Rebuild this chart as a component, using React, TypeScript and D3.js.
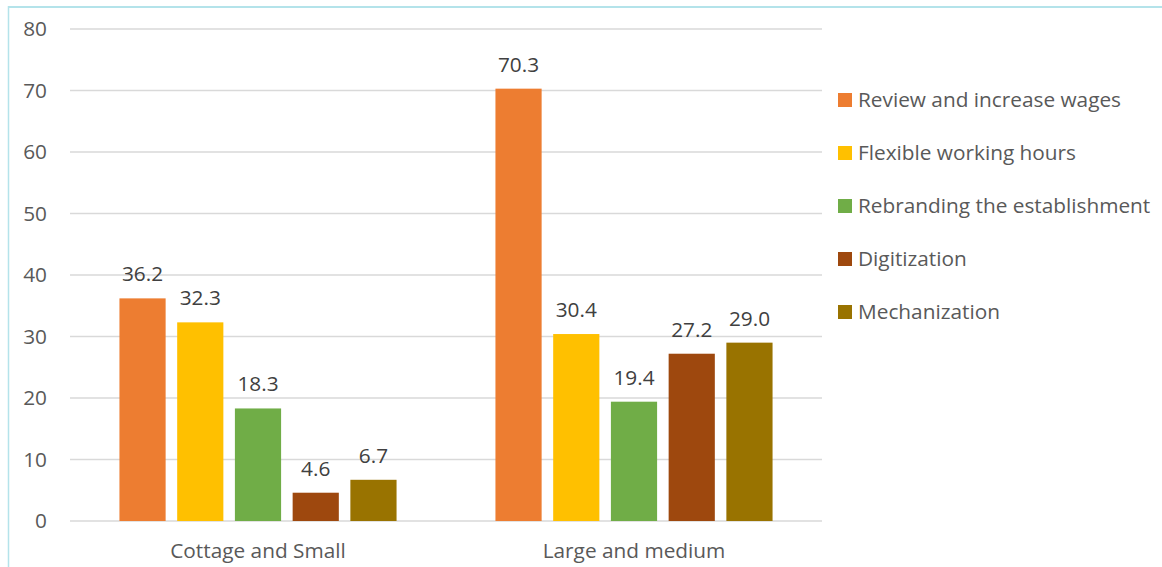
import React from "react";
import * as d3 from "d3";

const categories = ["Cottage and Small", "Large and medium"];
const seriesNames = [
  "Review and increase wages",
  "Flexible working hours",
  "Rebranding the establishment",
  "Digitization",
  "Mechanization",
];
const seriesColors = ["#ED7D31", "#FFC000", "#70AD47", "#9E480E", "#997300"];
const cottageSmall = [36.2, 32.3, 18.3, 4.6, 6.7];
const largeMedium = [70.3, 30.4, 19.4, 27.2, 29.0];
const yTicks = [0, 10, 20, 30, 40, 50, 60, 70, 80];

const W = 1162;
const H = 567;
const FONT = "'Open Sans', sans-serif";
const FS = 20.8;

export default function App() {
  const plot = { left: 70, right: 822, top: 29, bottom: 521 };
  const y = d3.scaleLinear().domain([0, 80]).range([plot.bottom, plot.top]);
  const x0 = d3
    .scaleBand<string>()
    .domain(categories)
    .range([plot.left, plot.right])
    .paddingInner(0.263)
    .paddingOuter(0.1315);
  const x1 = d3
    .scaleBand<string>()
    .domain(seriesNames)
    .range([0, x0.bandwidth()])
    .paddingInner(0.2);
  const valuesByCat = [cottageSmall, largeMedium];

  return (
    <svg
      width={W}
      height={H}
      style={{ position: "absolute", left: 0, top: 0, background: "#fff" }}
    >
      {/* frame */}
      <line x1={8} x2={W} y1={7} y2={7} stroke="#B4E3EA" strokeWidth={2} />
      <line x1={8.5} x2={8.5} y1={6} y2={H} stroke="#B4E3EA" strokeWidth={1.5} />

      {/* gridlines and y labels */}
      {yTicks.map((t) => (
        <g key={t}>
          <line
            x1={plot.left}
            x2={plot.right}
            y1={y(t)}
            y2={y(t)}
            stroke="#D9D9D9"
            strokeWidth={1.5}
          />
          <text
            x={47}
            y={y(t)}
            dy="0.35em"
            textAnchor="end"
            fontFamily={FONT}
            fontSize={FS}
            fill="#595959"
          >
            {t}
          </text>
        </g>
      ))}

      {/* bars */}
      {categories.map((c, ci) => (
        <g key={c} transform={`translate(${x0(c)},0)`}>
          {seriesNames.map((s, si) => {
            const v = valuesByCat[ci][si];
            const bx = x1(s)!;
            return (
              <g key={s}>
                <rect
                  x={bx}
                  y={y(v)}
                  width={x1.bandwidth()}
                  height={y(0) - y(v)}
                  fill={seriesColors[si]}
                />
                <text
                  x={bx + x1.bandwidth() / 2}
                  y={y(v) - 17}
                  textAnchor="middle"
                  fontFamily={FONT}
                  fontSize={FS}
                  fill="#404040"
                >
                  {v.toFixed(1)}
                </text>
              </g>
            );
          })}
          <text
            x={x0.bandwidth() / 2}
            y={558}
            textAnchor="middle"
            fontFamily={FONT}
            fontSize={FS}
            fill="#595959"
          >
            {c}
          </text>
        </g>
      ))}

      {/* legend */}
      {seriesNames.map((s, i) => {
        const cy = 100 + i * 53;
        return (
          <g key={s}>
            <rect x={838} y={cy - 7} width={14} height={14} fill={seriesColors[i]} />
            <text
              x={858}
              y={cy}
              dy="0.35em"
              fontFamily={FONT}
              fontSize={FS}
              fill="#595959"
            >
              {s}
            </text>
          </g>
        );
      })}
    </svg>
  );
}
